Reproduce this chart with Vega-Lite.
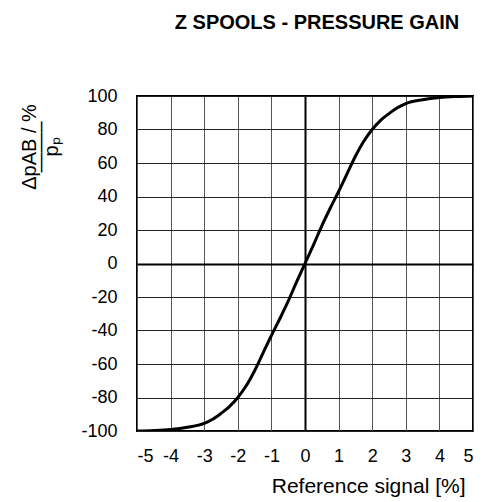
{
  "$schema": "https://vega.github.io/schema/vega-lite/v6.json",
  "width": 336,
  "height": 335,
  "autosize": "none",
  "padding": {"left": 137, "top": 96, "right": 13, "bottom": 71},
  "background": "white",
  "config": {
    "view": {"stroke": "black", "strokeWidth": 2},
    "font": "Liberation Sans"
  },
  "title": {
    "text": "Z SPOOLS - PRESSURE GAIN",
    "fontSize": 20,
    "fontWeight": "bold",
    "font": "Liberation Sans",
    "color": "black",
    "anchor": "middle",
    "frame": "group",
    "baseline": "bottom",
    "offset": 34,
    "dx": 12
  },
  "data": {
    "values": [
      {"signal": -5, "gain": -100},
      {"signal": -4.5, "gain": -99.7},
      {"signal": -4, "gain": -99.1},
      {"signal": -3.5, "gain": -97.8},
      {"signal": -3, "gain": -95.5},
      {"signal": -2.75, "gain": -93},
      {"signal": -2.5, "gain": -89.5},
      {"signal": -2.25, "gain": -85.5},
      {"signal": -2, "gain": -80},
      {"signal": -1.75, "gain": -73},
      {"signal": -1.5, "gain": -64},
      {"signal": -1.25, "gain": -53.5},
      {"signal": -1, "gain": -43},
      {"signal": -0.75, "gain": -33},
      {"signal": -0.5, "gain": -22.5},
      {"signal": -0.25, "gain": -11},
      {"signal": 0, "gain": 0},
      {"signal": 0.25, "gain": 11},
      {"signal": 0.5, "gain": 22.5},
      {"signal": 0.75, "gain": 33},
      {"signal": 1, "gain": 43},
      {"signal": 1.25, "gain": 53.5},
      {"signal": 1.5, "gain": 64},
      {"signal": 1.75, "gain": 73},
      {"signal": 2, "gain": 80},
      {"signal": 2.25, "gain": 85.5},
      {"signal": 2.5, "gain": 89.5},
      {"signal": 2.75, "gain": 93},
      {"signal": 3, "gain": 95.5},
      {"signal": 3.5, "gain": 97.8},
      {"signal": 4, "gain": 99.1},
      {"signal": 4.5, "gain": 99.7},
      {"signal": 5, "gain": 100}
    ]
  },
  "mark": {"type": "line", "color": "black", "strokeWidth": 3, "interpolate": "monotone", "clip": true},
  "encoding": {
    "x": {
      "field": "signal",
      "type": "quantitative",
      "scale": {"domain": [-5, 5], "nice": false, "zero": false},
      "axis": {
        "values": [-5, -4, -3, -2, -1, 0, 1, 2, 3, 4, 5],
        "labelExpr": "'' + datum.value",
        "labelOverlap": false,
        "labelBound": false,
        "grid": true,
        "gridColor": {"condition": {"test": "datum.value === 0", "value": "black"}, "value": "#555555"},
        "gridWidth": {"condition": {"test": "datum.value === 0", "value": 2}, "value": 1},
        "domain": false,
        "ticks": false,
        "tickSize": 0,
        "labelPadding": 16,
        "labelFontSize": 18,
        "labelColor": "black",
        "labelFont": "Liberation Sans",
        "title": "Reference signal [%]",
        "titleFontSize": 21,
        "titleFontWeight": "normal",
        "titleFont": "Liberation Sans",
        "titleColor": "black",
        "titleAnchor": null,
        "titleAlign": "right",
        "titleBaseline": "alphabetic",
        "titleX": 328,
        "titleY": 61
      }
    },
    "y": {
      "field": "gain",
      "type": "quantitative",
      "scale": {"domain": [-100, 100], "nice": false, "zero": false},
      "axis": {
        "values": [-100, -80, -60, -40, -20, 0, 20, 40, 60, 80, 100],
        "labelExpr": "'' + datum.value",
        "labelOverlap": false,
        "labelBound": false,
        "grid": true,
        "gridColor": {"condition": {"test": "datum.value === 0", "value": "black"}, "value": "#222222"},
        "gridWidth": {"condition": {"test": "datum.value === 0", "value": 2}, "value": 1},
        "domain": false,
        "ticks": false,
        "tickSize": 0,
        "labelPadding": 20,
        "labelFontSize": 18,
        "labelColor": "black",
        "labelFont": "Liberation Sans",
        "title": ["ΔpAB\u00a0/ %", "——–\u00a0\u00a0\u00a0\u00a0\u00a0\u00a0", "pₚ\u00a0\u00a0\u00a0\u00a0\u00a0"],
        "titleFontSize": 20,
        "titleFontWeight": "normal",
        "titleFont": "Liberation Sans",
        "titleColor": "black",
        "titleAnchor": null,
        "titleAngle": -90,
        "titleAlign": "center",
        "titleBaseline": "alphabetic",
        "titleLineHeight": 11,
        "titleX": -102,
        "titleY": 50.5
      }
    }
  }
}
